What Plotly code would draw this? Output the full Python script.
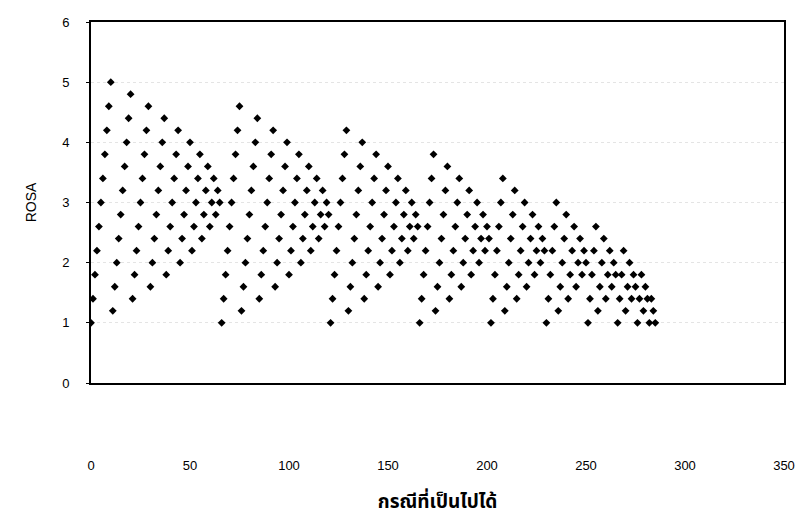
import plotly.graph_objects as go

# ROSA scores of each possible case, listed block by block
block_1 = [1.0, 1.4, 1.8, 2.2, 2.6, 3.0, 3.4, 3.8, 4.2, 4.6, 5.0,
           1.2, 1.6, 2.0, 2.4, 2.8, 3.2, 3.6, 4.0, 4.4, 4.8,
           1.4, 1.8, 2.2, 2.6, 3.0, 3.4, 3.8, 4.2, 4.6,
           1.6, 2.0, 2.4, 2.8, 3.2, 3.6, 4.0, 4.4,
           1.8, 2.2, 2.6, 3.0, 3.4, 3.8, 4.2,
           2.0, 2.4, 2.8, 3.2, 3.6, 4.0,
           2.2, 2.6, 3.0, 3.4, 3.8,
           2.4, 2.8, 3.2, 3.6,
           2.6, 3.0, 3.4,
           2.8, 3.2,
           3.0]
block_2 = [1.0, 1.4, 1.8, 2.2, 2.6, 3.0, 3.4, 3.8, 4.2, 4.6,
           1.2, 1.6, 2.0, 2.4, 2.8, 3.2, 3.6, 4.0, 4.4,
           1.4, 1.8, 2.2, 2.6, 3.0, 3.4, 3.8, 4.2,
           1.6, 2.0, 2.4, 2.8, 3.2, 3.6, 4.0,
           1.8, 2.2, 2.6, 3.0, 3.4, 3.8,
           2.0, 2.4, 2.8, 3.2, 3.6,
           2.2, 2.6, 3.0, 3.4,
           2.4, 2.8, 3.2,
           2.6, 3.0,
           2.8]
block_3 = [1.0, 1.4, 1.8, 2.2, 2.6, 3.0, 3.4, 3.8, 4.2,
           1.2, 1.6, 2.0, 2.4, 2.8, 3.2, 3.6, 4.0,
           1.4, 1.8, 2.2, 2.6, 3.0, 3.4, 3.8,
           1.6, 2.0, 2.4, 2.8, 3.2, 3.6,
           1.8, 2.2, 2.6, 3.0, 3.4,
           2.0, 2.4, 2.8, 3.2,
           2.2, 2.6, 3.0,
           2.4, 2.8,
           2.6]
block_4 = [1.0, 1.4, 1.8, 2.2, 2.6, 3.0, 3.4, 3.8,
           1.2, 1.6, 2.0, 2.4, 2.8, 3.2, 3.6,
           1.4, 1.8, 2.2, 2.6, 3.0, 3.4,
           1.6, 2.0, 2.4, 2.8, 3.2,
           1.8, 2.2, 2.6, 3.0,
           2.0, 2.4, 2.8,
           2.2, 2.6,
           2.4]
block_5 = [1.0, 1.4, 1.8, 2.2, 2.6, 3.0, 3.4,
           1.2, 1.6, 2.0, 2.4, 2.8, 3.2,
           1.4, 1.8, 2.2, 2.6, 3.0,
           1.6, 2.0, 2.4, 2.8,
           1.8, 2.2, 2.6,
           2.0, 2.4,
           2.2]
block_6 = [1.0, 1.4, 1.8, 2.2, 2.6, 3.0,
           1.2, 1.6, 2.0, 2.4, 2.8,
           1.4, 1.8, 2.2, 2.6,
           1.6, 2.0, 2.4,
           1.8, 2.2,
           2.0]
block_7 = [1.0, 1.4, 1.8, 2.2, 2.6,
           1.2, 1.6, 2.0, 2.4,
           1.4, 1.8, 2.2,
           1.6, 2.0,
           1.8]
block_8 = [1.0, 1.4, 1.8, 2.2,
           1.2, 1.6, 2.0,
           1.4, 1.8,
           1.6]
block_9 = [1.0, 1.4, 1.8,
           1.2, 1.6,
           1.4]
block_10 = [1.0, 1.4,
            1.2]
block_11 = [1.0]

rosa = (block_1 + block_2 + block_3 + block_4 + block_5 + block_6 +
        block_7 + block_8 + block_9 + block_10 + block_11)
case_no = list(range(len(rosa)))

x_ticks = [0, 50, 100, 150, 200, 250, 300, 350]
y_ticks = [0, 1, 2, 3, 4, 5, 6]

fig = go.Figure()
fig.add_trace(go.Scatter(
    x=case_no, y=rosa, mode="markers",
    marker=dict(symbol="diamond", size=6, color="black", line=dict(width=0)),
    showlegend=False, hoverinfo="x+y",
))

axis_font = dict(family="Liberation Sans, Arial, sans-serif", size=13, color="black")

fig.update_layout(
    width=803, height=517,
    margin=dict(l=91, r=19, t=22, b=134),
    paper_bgcolor="white", plot_bgcolor="white",
    font=axis_font,
    xaxis=dict(
        range=[0, 350], tickvals=x_ticks, ticks="", showgrid=False,
        showline=True, linecolor="black", linewidth=1.5, mirror=True,
        zeroline=False, tickfont=axis_font, ticklabelstandoff=70,
        automargin=False,
        title=dict(text="<b>กรณีที่เป็นไปได้</b>",
                   font=dict(family="Noto Sans Thai, Loma, Tahoma, sans-serif", size=19, color="black"),
                   standoff=32),
    ),
    yaxis=dict(
        range=[0, 6], tickvals=y_ticks, ticks="outside", ticklen=3, tickcolor="black",
        showgrid=True, gridcolor="#e4e4e4", griddash="dot", gridwidth=1,
        showline=True, linecolor="black", linewidth=2, mirror=True,
        zeroline=False, tickfont=axis_font, ticklabelstandoff=14,
        automargin=False,
        title=dict(text="ROSA", font=dict(family="Liberation Sans, Arial, sans-serif", size=14, color="black"),
                   standoff=22),
    ),
)

fig.write_html("out.html")
